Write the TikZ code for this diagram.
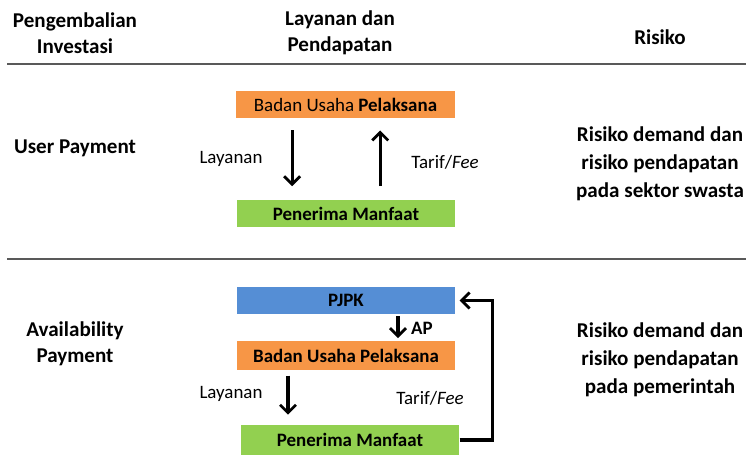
\documentclass[tikz,border=0pt]{standalone}
\usepackage{fontspec}
\setmainfont{Carlito}
\usetikzlibrary{arrows.meta}

\definecolor{oranye}{RGB}{247,150,70}
\definecolor{hijau}{RGB}{146,208,80}
\definecolor{biru}{RGB}{85,142,213}

\tikzset{
  kotak/.style={minimum width=164pt, minimum height=20.5pt, inner sep=0pt, font=\fontsize{14.2}{16}\selectfont},
  panah/.style={line width=2.3pt, -{Straight Barb[length=6pt,width=12pt,line width=2.1pt]}},
  judul/.style={font=\bfseries\fontsize{15.8}{19.8}\selectfont, align=center},
  risk/.style={font=\bfseries\fontsize{15.8}{21}\selectfont, align=center},
  ket/.style={font=\fontsize{14.2}{16}\selectfont}
}

\begin{document}
\begin{tikzpicture}[x=0.75pt, y=-0.75pt]

    % batas gambar
    \useasboundingbox (0,0) rectangle (746,475);

    % judul kolom
    \node[judul] (kolA) at (75,33) {Pengembalian\\Investasi};
    \node[judul] (kolB) at (340,33) {Layanan dan\\Pendapatan};
    \node[judul] (kolC) at (660,37) {Risiko};

    % garis pemisah
    \draw[line width=1.6pt, black!65] (7,64) -- (746,64);
    \draw[line width=1.6pt, black!65] (7,259) -- (746,259);

    % user payment
    \node[judul] (up) at (75,148) {User Payment};
    \node[kotak, fill=oranye] (bup1) at (345.5,104.5) {Badan Usaha \textbf{Pelaksana}};
    \node[kotak, fill=hijau] (pm1) at (346,213.5) {\textbf{Penerima Manfaat}};
    \draw[panah, shorten <=9pt, shorten >=10pt] ([xshift=-40pt]bup1.south) -- ([xshift=-40pt]bup1.south |- pm1.north);
    \draw[panah, shorten <=10pt, shorten >=9pt] ([xshift=26pt]bup1.south |- pm1.north) -- ([xshift=26pt]bup1.south);
    \node[ket] (lay1) at (231,159) {Layanan};
    \node[ket] (tar1) at (445,162) {Tarif/\textit{Fee}};
    \node[risk] (ris1) at (660,164) {Risiko demand dan\\risiko pendapatan\\pada sektor swasta};

    % availability payment
    \node[judul] (ap) at (75,344) {Availability\\Payment};
    \node[kotak, fill=biru] (pjpk) at (346,300.5) {\textbf{PJPK}};
    \node[kotak, fill=oranye, minimum height=21.75pt] (bup2) at (346,355.5) {\textbf{Badan Usaha Pelaksana}};
    \node[kotak, fill=hijau, minimum height=22.5pt] (pm2) at (350,440) {\textbf{Penerima Manfaat}};
    \draw[panah, shorten <=1.5pt, shorten >=2pt] ([xshift=39pt]pjpk.south) -- ([xshift=39pt]pjpk.south |- bup2.north);
    \node[ket, font=\bfseries\fontsize{14.2}{16}\selectfont] (aplab) at (422,328) {AP};
    \draw[panah, shorten <=4pt, shorten >=7.5pt] ([xshift=-43.5pt]bup2.south) -- ([xshift=-43.5pt]bup2.south |- pm2.north);
    \node[ket] (lay2) at (231,394) {Layanan};
    \node[ket] (tar2) at (430,398) {Tarif/\textit{Fee}};
    \draw[panah, shorten >=3pt] (pm2.east) -- ++(33,0) |- (pjpk.east);
    \node[risk] (ris2) at (660,360) {Risiko demand dan\\risiko pendapatan\\pada pemerintah};

\end{tikzpicture}
\end{document}
